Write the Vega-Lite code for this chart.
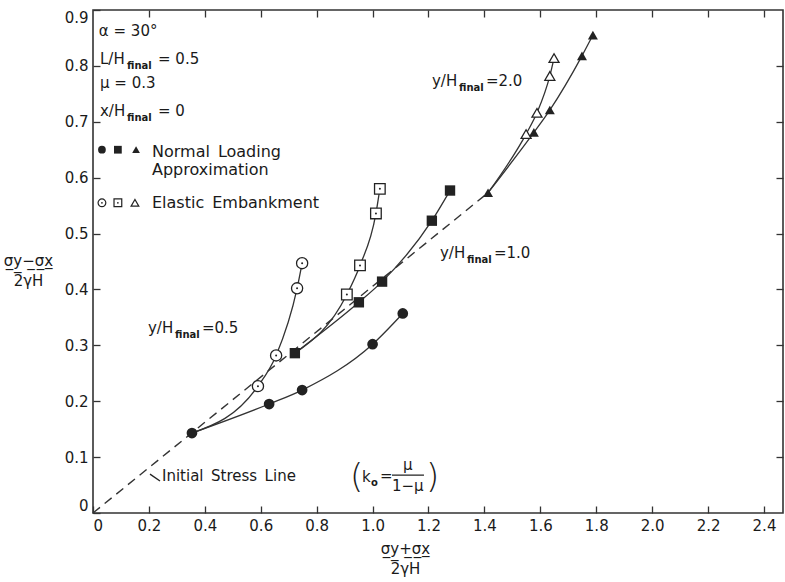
{
  "$schema": "https://vega.github.io/schema/vega-lite/v6.json",
  "width": 690,
  "height": 503,
  "autosize": {"type": "none"},
  "padding": {"left": 93, "top": 10, "right": 2, "bottom": 69},
  "background": "white",
  "config": {
    "view": {"stroke": "#333", "strokeWidth": 1.6},
    "font": "DejaVu Sans",
    "axis": {
      "grid": false,
      "domain": false,
      "tickColor": "#333",
      "tickWidth": 1.3,
      "tickSize": -7,
      "labelFont": "DejaVu Sans",
      "labelFontSize": 15,
      "labelColor": "#1a1a1a",
      "labelPadding": 12,
      "titleFont": "DejaVu Sans",
      "titleFontSize": 15,
      "titleFontWeight": "normal",
      "titleColor": "#1a1a1a"
    }
  },
  "datasets": {
    "points": [
      {"depth": "0.5", "loading": "Normal", "x": 0.354, "y": 0.143},
      {"depth": "0.5", "loading": "Normal", "x": 0.63, "y": 0.195},
      {"depth": "0.5", "loading": "Normal", "x": 0.748, "y": 0.22},
      {"depth": "0.5", "loading": "Normal", "x": 1.0, "y": 0.302},
      {"depth": "0.5", "loading": "Normal", "x": 1.108, "y": 0.357},
      {"depth": "1.0", "loading": "Normal", "x": 0.722, "y": 0.286},
      {"depth": "1.0", "loading": "Normal", "x": 0.951, "y": 0.377},
      {"depth": "1.0", "loading": "Normal", "x": 1.034, "y": 0.414},
      {"depth": "1.0", "loading": "Normal", "x": 1.212, "y": 0.523},
      {"depth": "1.0", "loading": "Normal", "x": 1.277, "y": 0.577},
      {"depth": "2.0", "loading": "Normal", "x": 1.413, "y": 0.573},
      {"depth": "2.0", "loading": "Normal", "x": 1.577, "y": 0.681},
      {"depth": "2.0", "loading": "Normal", "x": 1.634, "y": 0.721},
      {"depth": "2.0", "loading": "Normal", "x": 1.749, "y": 0.818},
      {"depth": "2.0", "loading": "Normal", "x": 1.788, "y": 0.855},
      {"depth": "0.5", "loading": "Elastic", "x": 0.59, "y": 0.227},
      {"depth": "0.5", "loading": "Elastic", "x": 0.655, "y": 0.282},
      {"depth": "0.5", "loading": "Elastic", "x": 0.73, "y": 0.402},
      {"depth": "0.5", "loading": "Elastic", "x": 0.748, "y": 0.447},
      {"depth": "1.0", "loading": "Elastic", "x": 0.908, "y": 0.391},
      {"depth": "1.0", "loading": "Elastic", "x": 0.955, "y": 0.443},
      {"depth": "1.0", "loading": "Elastic", "x": 1.012, "y": 0.536},
      {"depth": "1.0", "loading": "Elastic", "x": 1.026, "y": 0.58},
      {"depth": "2.0", "loading": "Elastic", "x": 1.549, "y": 0.678},
      {"depth": "2.0", "loading": "Elastic", "x": 1.588, "y": 0.716},
      {"depth": "2.0", "loading": "Elastic", "x": 1.634, "y": 0.782},
      {"depth": "2.0", "loading": "Elastic", "x": 1.649, "y": 0.814}
    ],
    "paths": [
      {"curve": "N0.5", "x": 0.354, "y": 0.143},
      {"curve": "N0.5", "x": 0.63, "y": 0.195},
      {"curve": "N0.5", "x": 0.748, "y": 0.22},
      {"curve": "N0.5", "x": 1.0, "y": 0.302},
      {"curve": "N0.5", "x": 1.108, "y": 0.357},
      {"curve": "E0.5", "x": 0.354, "y": 0.143},
      {"curve": "E0.5", "x": 0.59, "y": 0.227},
      {"curve": "E0.5", "x": 0.655, "y": 0.282},
      {"curve": "E0.5", "x": 0.73, "y": 0.402},
      {"curve": "E0.5", "x": 0.748, "y": 0.447},
      {"curve": "N1.0", "x": 0.722, "y": 0.286},
      {"curve": "N1.0", "x": 0.951, "y": 0.377},
      {"curve": "N1.0", "x": 1.034, "y": 0.414},
      {"curve": "N1.0", "x": 1.212, "y": 0.523},
      {"curve": "N1.0", "x": 1.277, "y": 0.577},
      {"curve": "E1.0", "x": 0.722, "y": 0.286},
      {"curve": "E1.0", "x": 0.908, "y": 0.391},
      {"curve": "E1.0", "x": 0.955, "y": 0.443},
      {"curve": "E1.0", "x": 1.012, "y": 0.536},
      {"curve": "E1.0", "x": 1.026, "y": 0.58},
      {"curve": "N2.0", "x": 1.413, "y": 0.573},
      {"curve": "N2.0", "x": 1.577, "y": 0.681},
      {"curve": "N2.0", "x": 1.634, "y": 0.721},
      {"curve": "N2.0", "x": 1.749, "y": 0.818},
      {"curve": "N2.0", "x": 1.788, "y": 0.855},
      {"curve": "E2.0", "x": 1.413, "y": 0.573},
      {"curve": "E2.0", "x": 1.549, "y": 0.678},
      {"curve": "E2.0", "x": 1.588, "y": 0.716},
      {"curve": "E2.0", "x": 1.634, "y": 0.782},
      {"curve": "E2.0", "x": 1.649, "y": 0.814}
    ],
    "initial": [
      {"x": 0, "y": 0},
      {"x": 1.413, "y": 0.573}
    ],
    "legendSymbols": [
      {"depth": "0.5", "loading": "Normal", "x": 0.032, "y": 0.65},
      {"depth": "1.0", "loading": "Normal", "x": 0.089, "y": 0.65},
      {"depth": "2.0", "loading": "Normal", "x": 0.154, "y": 0.65},
      {"depth": "0.5", "loading": "Elastic", "x": 0.032, "y": 0.555},
      {"depth": "1.0", "loading": "Elastic", "x": 0.089, "y": 0.555},
      {"depth": "2.0", "loading": "Elastic", "x": 0.15, "y": 0.555}
    ],
    "mainText": [
      {"x": 0.021, "y": 0.854, "text": "α = 30°"},
      {"x": 0.025, "y": 0.804, "text": "L/H"},
      {"x": 0.2325, "y": 0.804, "text": "= 0.5"},
      {"x": 0.025, "y": 0.761, "text": "μ = 0.3"},
      {"x": 0.025, "y": 0.7107, "text": "x/H"},
      {"x": 0.2325, "y": 0.7107, "text": "= 0"},
      {"x": 1.2124, "y": 0.7643, "text": "y/H"},
      {"x": 1.4056, "y": 0.7643, "text": "=2.0"},
      {"x": 1.2411, "y": 0.4571, "text": "y/H"},
      {"x": 1.4342, "y": 0.4571, "text": "=1.0"},
      {"x": 0.1967, "y": 0.3214, "text": "y/H"},
      {"x": 0.3898, "y": 0.3214, "text": "=0.5"},
      {"x": 0.2468, "y": 0.0571, "text": "Initial\u2002Stress\u2002Line"},
      {"x": 0.9621, "y": 0.0554, "text": "k"},
      {"x": 1.0265, "y": 0.0571, "text": "="},
      {"x": 1.1087, "y": 0.0768, "text": "μ"},
      {"x": 1.0694, "y": 0.0393, "text": "1−μ"}
    ],
    "subText": [
      {"x": 0.1216, "y": 0.795, "text": "final"},
      {"x": 0.1216, "y": 0.7018, "text": "final"},
      {"x": 1.309, "y": 0.7554, "text": "final"},
      {"x": 1.3376, "y": 0.4482, "text": "final"},
      {"x": 0.2933, "y": 0.3125, "text": "final"},
      {"x": 0.9943, "y": 0.0482, "text": "o"}
    ],
    "legendText": [
      {"x": 0.211, "y": 0.6375, "text": "Normal\u2002Loading"},
      {"x": 0.211, "y": 0.6054, "text": "Approximation"},
      {"x": 0.211, "y": 0.5464, "text": "Elastic\u2002Embankment"}
    ],
    "bigText": [
      {"x": 0.9192, "y": 0.0446, "text": "("},
      {"x": 1.191, "y": 0.0446, "text": ")"}
    ],
    "rules": [
      {"x": 0.2039, "y": 0.0696, "x2": 0.2396, "y2": 0.0571},
      {"x": 1.0694, "y": 0.0679, "x2": 1.1838, "y2": 0.0679}
    ]
  },
  "encoding": {
    "x": {"field": "x", "type": "quantitative", "scale": {"domain": [0, 2.468], "nice": false, "zero": false}, "axis": null},
    "y": {"field": "y", "type": "quantitative", "scale": {"domain": [0, 0.9], "nice": false, "zero": false}, "axis": null}
  },
  "resolve": {"axis": {"x": "independent", "y": "independent"}, "scale": {"size": "independent"}},
  "layer": [
    {
      "data": {"name": "initial"},
      "mark": {"type": "line", "color": "#333", "strokeWidth": 1.4, "strokeDash": [9, 6]},
      "encoding": {
        "x": {
          "field": "x", "type": "quantitative",
          "scale": {"domain": [0, 2.468], "nice": false, "zero": false},
          "axis": {
            "orient": "bottom",
            "values": [0, 0.2, 0.4, 0.6, 0.8, 1.0, 1.2, 1.4, 1.6, 1.8, 2.0, 2.2, 2.4],
            "labelExpr": "datum.value == 0 ? '0' : format(datum.value, '.1f')",
            "labelFlush": true,
            "title": ["σ̲y̲+̲σ̲x̲", "2γH"],
            "titleX": 312,
            "titleY": 28,
            "titleAlign": "center",
            "titleAnchor": null,
            "titleBaseline": "top",
            "titleLineHeight": 20
          }
        },
        "y": {
          "field": "y", "type": "quantitative",
          "scale": {"domain": [0, 0.9], "nice": false, "zero": false},
          "axis": {
            "orient": "left",
            "values": [0, 0.1, 0.2, 0.3, 0.4, 0.5, 0.6, 0.7, 0.8, 0.9],
            "labelExpr": "datum.value == 0 ? '0' : format(datum.value, '.1f')",
            "labelFlush": true,
            "title": ["σ̲y̲−̲σ̲x̲", "2γH"],
            "titleAngle": 0,
            "titleX": -65,
            "titleY": 243,
            "titleAlign": "center",
            "titleAnchor": null,
            "titleBaseline": "top",
            "titleLineHeight": 20
          }
        }
      }
    },
    {
      "data": {"name": "paths"},
      "mark": {"type": "line", "color": "#333", "strokeWidth": 1.3, "interpolate": "monotone"},
      "encoding": {
        "x": {
          "field": "x", "type": "quantitative",
          "scale": {"domain": [0, 2.468], "nice": false, "zero": false},
          "axis": {"orient": "top", "labels": false, "title": null,
                   "values": [0.2, 0.4, 0.6, 0.8, 1.0, 1.2, 1.4, 1.6, 1.8, 2.0, 2.2, 2.4]}
        },
        "y": {
          "field": "y", "type": "quantitative",
          "scale": {"domain": [0, 0.9], "nice": false, "zero": false},
          "axis": {"orient": "right", "labels": false, "title": null,
                   "values": [0.1, 0.2, 0.3, 0.4, 0.5, 0.6, 0.7, 0.8]}
        },
        "detail": {"field": "curve", "type": "nominal"}
      }
    },
    {
      "data": {"name": "points"},
      "transform": [{"filter": "datum.loading == 'Normal'"}],
      "mark": {"type": "point", "filled": true, "color": "#222", "opacity": 1},
      "encoding": {
        "shape": {"field": "depth", "type": "nominal", "scale": {"domain": ["0.5", "1.0", "2.0"], "range": ["circle", "square", "triangle-up"]}, "legend": null},
        "size": {"field": "depth", "type": "nominal", "scale": {"domain": ["0.5", "1.0", "2.0"], "range": [115, 100, 70]}, "legend": null}
      }
    },
    {
      "data": {"name": "points"},
      "transform": [{"filter": "datum.loading == 'Elastic'"}],
      "mark": {"type": "point", "filled": false, "fill": "white", "fillOpacity": 1, "stroke": "#222", "strokeWidth": 1.3, "opacity": 1},
      "encoding": {
        "shape": {"field": "depth", "type": "nominal", "scale": {"domain": ["0.5", "1.0", "2.0"], "range": ["circle", "square", "triangle-up"]}, "legend": null},
        "size": {"field": "depth", "type": "nominal", "scale": {"domain": ["0.5", "1.0", "2.0"], "range": [125, 100, 170]}, "legend": null}
      }
    },
    {
      "data": {"name": "points"},
      "transform": [{"filter": "datum.loading == 'Elastic' && datum.depth != '2.0'"}],
      "mark": {"type": "circle", "size": 4, "color": "#222", "opacity": 1}
    },
    {
      "data": {"name": "legendSymbols"},
      "transform": [{"filter": "datum.loading == 'Normal'"}],
      "mark": {"type": "point", "filled": true, "color": "#222", "opacity": 1, "size": 60},
      "encoding": {
        "shape": {"field": "depth", "type": "nominal", "scale": {"domain": ["0.5", "1.0", "2.0"], "range": ["circle", "square", "triangle-up"]}, "legend": null}
      }
    },
    {
      "data": {"name": "legendSymbols"},
      "transform": [{"filter": "datum.loading == 'Elastic'"}],
      "mark": {"type": "point", "filled": false, "fill": "white", "fillOpacity": 1, "stroke": "#222", "strokeWidth": 1.2, "opacity": 1, "size": 60},
      "encoding": {
        "shape": {"field": "depth", "type": "nominal", "scale": {"domain": ["0.5", "1.0", "2.0"], "range": ["circle", "square", "triangle-up"]}, "legend": null}
      }
    },
    {
      "data": {"name": "legendSymbols"},
      "transform": [{"filter": "datum.loading == 'Elastic' && datum.depth != '2.0'"}],
      "mark": {"type": "circle", "size": 3, "color": "#222", "opacity": 1}
    },
    {
      "data": {"name": "rules"},
      "mark": {"type": "rule", "color": "#222", "strokeWidth": 1.3},
      "encoding": {
        "x2": {"field": "x2"},
        "y2": {"field": "y2"}
      }
    },
    {
      "data": {"name": "mainText"},
      "mark": {"type": "text", "align": "left", "baseline": "alphabetic", "font": "DejaVu Sans", "fontSize": 15, "color": "#1a1a1a"},
      "encoding": {"text": {"field": "text", "type": "nominal"}}
    },
    {
      "data": {"name": "subText"},
      "mark": {"type": "text", "align": "left", "baseline": "alphabetic", "font": "DejaVu Sans", "fontSize": 10, "fontWeight": "bold", "color": "#1a1a1a"},
      "encoding": {"text": {"field": "text", "type": "nominal"}}
    },
    {
      "data": {"name": "legendText"},
      "mark": {"type": "text", "align": "left", "baseline": "alphabetic", "font": "DejaVu Sans", "fontSize": 16, "color": "#1a1a1a"},
      "encoding": {"text": {"field": "text", "type": "nominal"}}
    },
    {
      "data": {"name": "bigText"},
      "mark": {"type": "text", "align": "left", "baseline": "alphabetic", "font": "DejaVu Sans", "fontSize": 34, "fontWeight": 200, "color": "#1a1a1a"},
      "encoding": {"text": {"field": "text", "type": "nominal"}}
    }
  ]
}
